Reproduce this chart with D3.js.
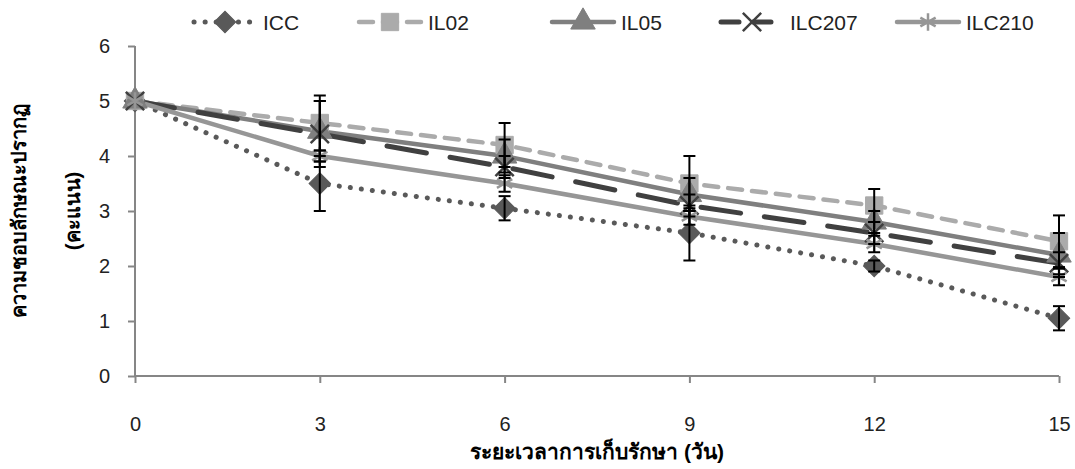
<!DOCTYPE html>
<html>
<head>
<meta charset="utf-8">
<script src="https://cdn.jsdelivr.net/npm/d3@7"></script>
<style>
  body { margin: 0; background: #fff; }
  text { font-family: "Liberation Sans", Arial, sans-serif; }
</style>
</head>
<body>
<svg id="chart"></svg>
<script>
const days = [0, 3, 6, 9, 12, 15];
const yTicks = [0, 1, 2, 3, 4, 5, 6];

const icc = [5, 3.5, 3.05, 2.6, 2.0, 1.05];
const iccErr = [0, 0.5, 0.22, 0.5, 0.1, 0.22];
const il02 = [5, 4.6, 4.2, 3.5, 3.1, 2.45];
const il02Err = [0, 0.5, 0.4, 0.5, 0.3, 0.47];
const il05 = [5, 4.45, 4.0, 3.3, 2.8, 2.2];
const il05Err = [0, 0.55, 0.3, 0.3, 0.2, 0.4];
const ilc207 = [5, 4.4, 3.8, 3.1, 2.6, 2.05];
const ilc207Err = [0, 0.6, 0.2, 0.2, 0.2, 0.2];
const ilc210 = [5, 4.0, 3.5, 2.9, 2.4, 1.8];
const ilc210Err = [0, 0.1, 0.15, 0.15, 0.15, 0.15];

const series = [
  { name: 'ICC', values: icc, err: iccErr, color: '#595959', dash: '0.1,11', width: 5, sym: d3.symbolSquare, rot: 45, size: 230, fill: true },
  { name: 'IL02', values: il02, err: il02Err, color: '#ababab', dash: '14,10', width: 4.5, sym: d3.symbolSquare, rot: 0, size: 300, fill: true },
  { name: 'IL05', values: il05, err: il05Err, color: '#7f7f7f', dash: null, width: 4.5, sym: d3.symbolTriangle, rot: 0, size: 260, fill: true },
  { name: 'ILC207', values: ilc207, err: ilc207Err, color: '#404040', dash: '40,24', width: 5, sym: d3.symbolX, rot: 0, size: 220, fill: false },
  { name: 'ILC210', values: ilc210, err: ilc210Err, color: '#969696', dash: null, width: 4.5, sym: d3.symbolAsterisk, rot: 0, size: 220, fill: false }
];

const W = 1075, H = 469;
const svg = d3.select('#chart').attr('width', W).attr('height', H);

const x = d3.scaleLinear().domain([0, 15]).range([135, 1059]);
const y = d3.scaleLinear().domain([0, 6]).range([376, 46]);

// axes
const yAxis = svg.append('g')
  .attr('transform', 'translate(135,0)')
  .call(d3.axisLeft(y).tickValues(yTicks).tickSize(7).tickPadding(18).tickFormat(d3.format('d')));
const xAxis = svg.append('g')
  .attr('transform', 'translate(0,376)')
  .call(d3.axisBottom(x).tickValues(days).tickSize(7).tickPadding(34).tickFormat(d3.format('d')));
[yAxis, xAxis].forEach(g => {
  g.selectAll('path, line').attr('stroke', '#868686').attr('stroke-width', 2);
  g.selectAll('text').attr('font-size', 20).attr('fill', '#222');
});
yAxis.select('.domain').attr('d', 'M0,46V376');
xAxis.select('.domain').attr('d', 'M135,0H1059');

const line = d3.line().x((d, i) => x(days[i])).y(d => y(d));

// lines
series.forEach(s => {
  svg.append('path')
    .datum(s.values)
    .attr('d', line)
    .attr('fill', 'none')
    .attr('stroke', s.color)
    .attr('stroke-width', s.width)
    .attr('stroke-linecap', 'round')
    .attr('stroke-dasharray', s.dash);
});

// markers
function drawMarker(g, s, cx, cy) {
  g.append('path')
    .attr('d', d3.symbol().type(s.sym).size(s.size)())
    .attr('transform', `translate(${cx},${cy}) rotate(${s.rot})`)
    .attr('fill', s.fill ? s.color : 'none')
    .attr('stroke', s.color)
    .attr('stroke-width', s.fill ? 1 : 2.5);
}
series.forEach(s => {
  s.values.forEach((v, i) => drawMarker(svg, s, x(days[i]), y(v)));
});

// error bars
series.forEach(s => {
  s.values.forEach((v, i) => {
    const e = s.err[i];
    if (!e) return;
    const cx = x(days[i]);
    const g = svg.append('g').attr('stroke', '#000').attr('stroke-width', 2);
    g.append('line').attr('x1', cx).attr('x2', cx).attr('y1', y(v - e)).attr('y2', y(v + e));
    [v - e, v + e].forEach(t => {
      g.append('line').attr('x1', cx - 6).attr('x2', cx + 6).attr('y1', y(t)).attr('y2', y(t));
    });
  });
});

// legend
const legendX = [190, 355, 548, 717, 893];
series.forEach((s, i) => {
  const g = svg.append('g').attr('transform', `translate(${legendX[i]},22)`);
  g.append('line')
    .attr('x1', 4).attr('x2', 66).attr('y1', 0).attr('y2', 0)
    .attr('stroke', s.color).attr('stroke-width', s.width)
    .attr('stroke-linecap', 'round')
    .attr('stroke-dasharray', s.name === 'ILC207' ? '18,14' : s.dash);
  drawMarker(g, s, 35, 0);
  g.append('text')
    .attr('x', 73).attr('y', 8)
    .attr('font-size', 21).attr('fill', '#222')
    .text(s.name);
});

// axis titles
svg.append('text')
  .attr('transform', 'translate(26,211) rotate(-90)')
  .attr('text-anchor', 'middle')
  .attr('font-size', 20).attr('font-weight', 'bold')
  .text('ความชอบลักษณะปรากฏ');
svg.append('text')
  .attr('transform', 'translate(80,211) rotate(-90)')
  .attr('text-anchor', 'middle')
  .attr('font-size', 20).attr('font-weight', 'bold')
  .text('(คะแนน)');
svg.append('text')
  .attr('x', 597).attr('y', 459)
  .attr('text-anchor', 'middle')
  .attr('font-size', 21).attr('font-weight', 'bold')
  .text('ระยะเวลาการเก็บรักษา (วัน)');
</script>
</body>
</html>
